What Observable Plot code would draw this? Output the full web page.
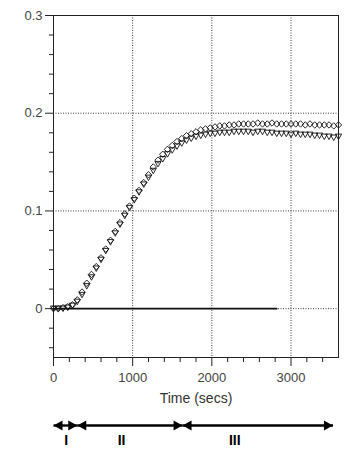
<!DOCTYPE html>
<html><head><meta charset="utf-8">
<script src="https://cdn.jsdelivr.net/npm/d3@7"></script>
<script src="https://cdn.jsdelivr.net/npm/@observablehq/plot@0.6"></script>
<style>body{margin:0;background:#fff}</style>
</head><body><div id="chart"></div>
<script>
// time (secs)
const times = [0,60,120,180,240,300,360,420,480,540,600,660,720,780,840,900,960,1020,1080,1140,1200,1260,1320,1380,1440,1500,1560,1620,1680,1740,1800,1860,1920,1980,2040,2100,2160,2220,2280,2340,2400,2460,2520,2580,2640,2700,2760,2820,2880,2940,3000,3060,3120,3180,3240,3300,3360,3420,3480,3540,3600];
// series drawn with open diamonds
const diamondSeries = [0.000,0.000,0.001,0.002,0.004,0.009,0.017,0.026,0.035,0.043,0.052,0.061,0.070,0.079,0.088,0.097,0.105,0.113,0.121,0.129,0.137,0.145,0.152,0.158,0.163,0.167,0.171,0.174,0.177,0.179,0.181,0.183,0.184,0.185,0.186,0.187,0.187,0.188,0.188,0.189,0.189,0.189,0.189,0.190,0.189,0.189,0.190,0.189,0.189,0.189,0.189,0.189,0.189,0.188,0.189,0.188,0.188,0.188,0.188,0.187,0.188];
// series drawn with open (down) triangles
const triangleSeries = [0.000,0.000,0.000,0.001,0.003,0.007,0.014,0.023,0.032,0.041,0.050,0.059,0.068,0.077,0.086,0.095,0.103,0.111,0.119,0.127,0.134,0.141,0.148,0.153,0.158,0.162,0.166,0.169,0.172,0.174,0.176,0.177,0.178,0.179,0.179,0.180,0.180,0.180,0.181,0.181,0.181,0.181,0.180,0.181,0.181,0.180,0.180,0.179,0.179,0.179,0.178,0.179,0.178,0.178,0.178,0.177,0.177,0.176,0.176,0.175,0.176];
// baseline (control) trace
const baselineTimes = [0, 2820];
const baselineValues = [0, 0];
// ticks
const yMajorTicks = [0, 0.1, 0.2, 0.3];
const yMinorTicks = [-0.04,-0.02,0.02,0.04,0.06,0.08,0.12,0.14,0.16,0.18,0.22,0.24,0.26,0.28];
const yGridTicks = [0, 0.1, 0.2];
const xMajorTicks = [0, 1000, 2000, 3000];
const xMinorTicks = [200,400,600,800,1200,1400,1600,1800,2200,2400,2600,2800,3200,3400];
const xGridTicks = [1000, 2000, 3000];
// phases
const phaseBounds = [0, 300, 1630, 3530];
const phaseNames = ["I", "II", "III"];
const phaseLabelX = [160, 860, 2290];
const xLabel = "Time (secs)";

const diamondData = times.map((t, i) => ({t, v: diamondSeries[i]}));
const triangleData = times.map((t, i) => ({t, v: triangleSeries[i]}));
const baselineData = baselineTimes.map((t, i) => ({t, v: baselineValues[i]}));
const segs = phaseNames.map((n, i) => ({name: n, x1: phaseBounds[i], x2: phaseBounds[i + 1], lx: phaseLabelX[i]}));

const diamondSym = {draw(c){c.moveTo(0,-3.2);c.lineTo(3.2,0);c.lineTo(0,3.2);c.lineTo(-3.2,0);c.closePath();}};
const downTri = {draw(c){c.moveTo(-3.1,-2.6);c.lineTo(3.1,-2.6);c.lineTo(0,2.9);c.closePath();}};
const headRight = {draw(c){c.moveTo(0,0);c.lineTo(-9,-5);c.lineTo(-9,5);c.closePath();}};
const headLeft = {draw(c){c.moveTo(0,0);c.lineTo(9,-5);c.lineTo(9,5);c.closePath();}};

const yb = () => -0.05;
const ink = "#222";
const txt = "#444";

const chart = Plot.plot({
  width: 359, height: 459,
  marginLeft: 53, marginRight: 21, marginTop: 15, marginBottom: 102,
  style: {fontFamily: "'Liberation Sans', Arial, sans-serif", fontSize: "13px", background: "#fff"},
  x: {domain: [0, 3600], label: null},
  y: {domain: [-0.05, 0.3], label: null},
  marks: [
    Plot.gridX(xGridTicks, {stroke: "#000", strokeOpacity: 0.75, strokeDasharray: "1,1.5"}),
    Plot.gridY(yGridTicks, {stroke: "#000", strokeOpacity: 0.75, strokeDasharray: "1,1.5"}),
    Plot.frame({stroke: ink}),
    Plot.axisY(yMajorTicks, {tickSize: 8, tickPadding: 3, tickFormat: d => String(d), stroke: ink, fill: txt, label: null, fontSize: 13}),
    Plot.axisY(yMinorTicks, {tickSize: 4, tickFormat: () => "", stroke: ink, label: null}),
    Plot.axisX(xMajorTicks, {tickSize: 9, tickPadding: 6, tickFormat: d => String(d), stroke: ink, fill: txt, label: null, fontSize: 13}),
    Plot.axisX(xMinorTicks, {tickSize: 5, tickFormat: () => "", stroke: ink, label: null}),
    Plot.line(baselineData, {x: "t", y: "v", stroke: "#111", strokeWidth: 1.6}),
    Plot.dot(triangleData, {x: "t", y: "v", symbol: downTri, r: 3, stroke: "#111", strokeWidth: 0.9, fill: "none"}),
    Plot.dot(diamondData, {x: "t", y: "v", symbol: diamondSym, r: 3, stroke: "#111", strokeWidth: 0.9, fill: "none"}),
    Plot.text([xLabel], {frameAnchor: "bottom", dy: 45, fontSize: 14, fill: "#333"}),
    Plot.link(segs, {x1: "x1", x2: "x2", y1: yb, y2: yb, dy: 68, stroke: "#000", strokeWidth: 2.4}),
    Plot.dot(segs, {x: "x1", y: yb, dy: 68, symbol: headLeft, r: 3, fill: "#000", stroke: "none"}),
    Plot.dot(segs, {x: "x2", y: yb, dy: 68, symbol: headRight, r: 3, fill: "#000", stroke: "none"}),
    Plot.text(segs, {x: "lx", y: yb, dy: 83, text: "name", fontWeight: "bold", fontSize: 14, fill: "#000"})
  ]
});
document.getElementById("chart").appendChild(chart);
</script>
</body></html>
